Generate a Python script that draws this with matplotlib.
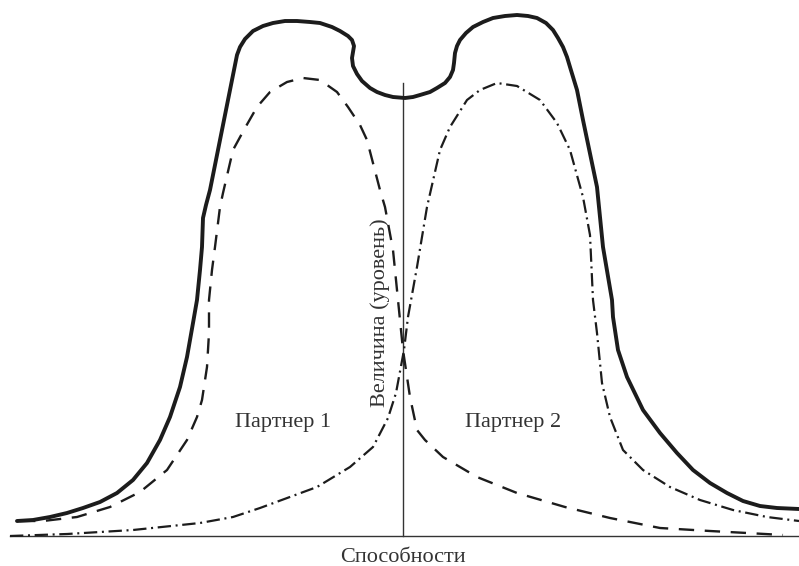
import matplotlib
matplotlib.use("Agg")
import matplotlib.pyplot as plt

# overall level (envelope of both partners)
x_total = [17, 33, 50, 67, 83, 100, 117, 133, 147, 160,
           170, 180, 187, 193, 197, 200, 202, 203, 206, 210,
           216, 222, 230, 234, 237, 240, 245, 253, 263, 273,
           285, 297, 310, 320, 332, 340, 348, 352, 354, 353,
           352, 353, 357, 362, 370, 377, 385, 393, 405, 413,
           420, 430, 437, 445, 450, 453, 454, 455, 457, 460,
           466, 473, 483, 493, 505, 517, 528, 537, 546, 553,
           558, 563, 567, 570, 577, 583, 597, 603, 612, 613,
           618, 627, 643, 660, 677, 693, 710, 727, 743, 760,
           777, 799]
y_total = [15, 16, 19, 23, 28, 34, 43, 56, 73, 96,
           119, 149, 179, 213, 236, 266, 289, 318, 331, 346,
           376, 406, 446, 466, 481, 489, 497, 505, 510, 513,
           515, 515, 514, 513, 509, 505, 500, 496, 490, 484,
           478, 470, 462, 455, 448, 444, 441, 439, 438, 439,
           441, 444, 448, 453, 459, 466, 473, 483, 490, 496,
           503, 509, 514, 518, 520, 521, 520, 518, 513, 506,
           498, 489, 479, 469, 446, 416, 349, 289, 236, 219,
           186, 159, 126, 103, 83, 66, 53, 43, 35, 30,
           28, 27]

# partner 1 (dashed)
x_p1 = [20, 43, 77, 110, 140, 167, 187, 197, 202, 207,
        209, 209, 212, 215, 220, 223, 233, 245, 257, 270,
        287, 303, 320, 337, 348, 360, 367, 380, 385, 393,
        398, 403, 410, 417, 425, 443, 477, 517, 565, 610,
        660, 710, 747, 783]
y_p1 = [15, 15, 19, 29, 44, 66, 96, 119, 136, 169,
        203, 236, 266, 289, 329, 343, 386, 408, 429, 444,
        454, 458, 456, 444, 429, 411, 396, 346, 329, 286,
        236, 186, 139, 106, 96, 79, 59, 43, 29, 18,
        8, 5, 3, 1]

# partner 2 (dash-dot)
x_p2 = [10, 67, 133, 200, 233, 260, 317, 350, 373, 388,
        396, 404, 408, 417, 427, 440, 450, 467, 480, 497,
        517, 540, 557, 570, 583, 590, 593, 597, 602, 610,
        623, 643, 670, 700, 733, 767, 799]
y_p2 = [0, 2, 6, 13, 19, 28, 49, 69, 89, 118,
        143, 186, 219, 269, 329, 386, 409, 436, 446, 453,
        450, 436, 413, 386, 339, 301, 236, 203, 153, 119,
        86, 66, 49, 36, 26, 19, 15]

x_axis = [10, 799]
x_mid = 403
mid_top = 453

ink = "#1c1c1c"
fnt = ["Liberation Serif", "DejaVu Serif"]

fig = plt.figure(figsize=(7.99, 5.66), dpi=100)
ax = fig.add_axes([0, 0, 1, 1])
ax.set_xlim(0, 799); ax.set_ylim(-30, 536)
ax.axis("off")

ax.plot(x_axis, [0, 0], color="#333333", lw=1.0)
ax.plot([x_mid, x_mid], [0, mid_top], color="#333333", lw=1.0)

ax.plot(x_total, y_total, color=ink, lw=2.8, solid_joinstyle="round", solid_capstyle="round")
ax.plot(x_p1, y_p1, color=ink, lw=1.7, ls=(0, (6.5, 4.5)), dash_joinstyle="round")
ax.plot(x_p2, y_p2, color=ink, lw=1.6, ls=(0, (6.0, 2.1, 0.9, 2.1)), dash_joinstyle="round")

ax.text(283, 114, "Партнер 1", ha="center", va="center", fontsize=16, family=fnt, color="#333333")
ax.text(513, 114, "Партнер 2", ha="center", va="center", fontsize=16, family=fnt, color="#333333")
ax.text(380, 223, "Величина (уровень)", ha="center", va="center", rotation=90, fontsize=16,
        family=fnt, color="#333333")
ax.text(x_mid, -21, "Способности", ha="center", va="center", fontsize=16, family=fnt, color="#333333")

fig.savefig("out.png", dpi=100)
